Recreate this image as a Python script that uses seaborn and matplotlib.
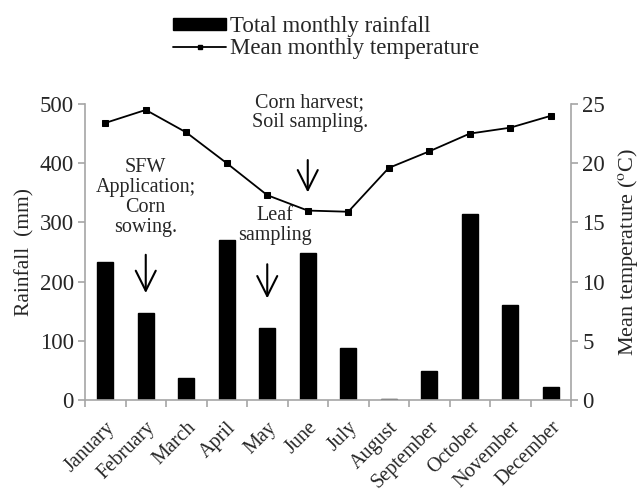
import numpy as np
import pandas as pd
import matplotlib
matplotlib.use("Agg")
import matplotlib.pyplot as plt
import seaborn as sns
from matplotlib.patches import Patch
from matplotlib.lines import Line2D

months = ["January", "February", "March", "April", "May", "June", "July",
          "August", "September", "October", "November", "December"]
rainfall = [233, 147, 38, 271, 122, 249, 88, 1.5, 49, 314, 160, 22]
temperature = [23.4, 24.5, 22.6, 20.0, 17.3, 16.0, 15.9, 19.6, 21.0, 22.5, 23.0, 24.0]

sns.set_theme(style="white")
plt.rcParams['font.family'] = ['Liberation Serif', 'DejaVu Serif']
plt.rcParams['mathtext.fontset'] = 'stix'

df = pd.DataFrame({"month": months, "rain": rainfall, "temp": temperature,
                   "pos": np.arange(len(months))})

fig = plt.figure(figsize=(6.4, 4.93), dpi=100)
ax = fig.add_axes([85/640, 1-400/493, (571-85)/640, (400-104)/493])
ax2 = ax.twinx()

sns.barplot(data=df, x="month", y="rain", color="black", width=0.4,
            saturation=1, ax=ax, edgecolor="black")
sns.lineplot(data=df, x="pos", y="temp", color="black", marker="s",
             markersize=5, markeredgecolor="black", linewidth=1.3, ax=ax2)

gray = "#a6a6a6"
ax.set_xlim(-0.5, 11.5)
ax.set_ylim(0, 500)
ax2.set_ylim(0, 25)
ax.set_yticks([0, 100, 200, 300, 400, 500])
ax2.set_yticks([0, 5, 10, 15, 20, 25])

for a in (ax, ax2):
    for s in a.spines.values():
        s.set_visible(False)
ax.spines['left'].set_visible(True)
ax.spines['bottom'].set_visible(True)
ax2.spines['right'].set_visible(True)
for s in (ax.spines['left'], ax.spines['bottom'], ax2.spines['right']):
    s.set_color(gray)
    s.set_linewidth(1.2)

ax.set_xticks(np.arange(12))
ax.set_xticklabels(months, rotation=45, ha="right", rotation_mode="anchor", fontsize=14.5)
ax.set_xticks(np.arange(-0.5, 12, 1), minor=True)
ax.tick_params(axis='x', which='major', length=0, pad=13)
ax.tick_params(axis='x', which='minor', length=5, color=gray, direction='out', width=1.2, bottom=True)
ax.tick_params(axis='y', length=5, color=gray, direction='out', width=1.2, labelsize=16.5,
               left=True, pad=3)
ax2.tick_params(axis='y', length=5, color=gray, direction='out', width=1.2, labelsize=16.5,
                right=True, pad=3)

ax.set_xlabel("")
ax.set_ylabel("Rainfall  (mm)", fontsize=15.5, labelpad=4)
ax2.set_xlabel("")
ax2.set_ylabel(r"Mean temperature ($^{\mathrm{o}}$C)", fontsize=16, labelpad=8)
ax.grid(False)
ax2.grid(False)

arrow = dict(arrowstyle="->,head_width=0.6,head_length=1.2", color="black", lw=1.5)
fs = 14.5
ax.text(1, 408, "SFW\nApplication;\nCorn\nsowing.", ha="center", va="top",
        fontsize=fs, linespacing=1.05)
ax.annotate("", xy=(1, 176), xytext=(1, 250), arrowprops=arrow)
ax.text(4.2, 328, "Leaf\nsampling", ha="center", va="top", fontsize=fs, linespacing=1.05)
ax.annotate("", xy=(4, 167), xytext=(4, 234), arrowprops=arrow)
ax.text(5.05, 518, "Corn harvest;\nSoil sampling.", ha="center", va="top",
        fontsize=fs, linespacing=1.05)
ax.annotate("", xy=(5, 346), xytext=(5, 410), arrowprops=arrow)
ax.set_ylim(0, 500)

handles = [Patch(facecolor="black", edgecolor="black"),
           Line2D([0], [0], color="black", marker="s", markersize=3, lw=1.3)]
fig.legend(handles, ["Total monthly rainfall", "Mean monthly temperature"],
           loc="upper center", bbox_to_anchor=(0.51, 1.0), frameon=False,
           fontsize=16.5, handlelength=2.3, handleheight=0.45, handletextpad=0.2,
           labelspacing=0.05, borderaxespad=0.3)

fig.savefig("out.png", dpi=100)
